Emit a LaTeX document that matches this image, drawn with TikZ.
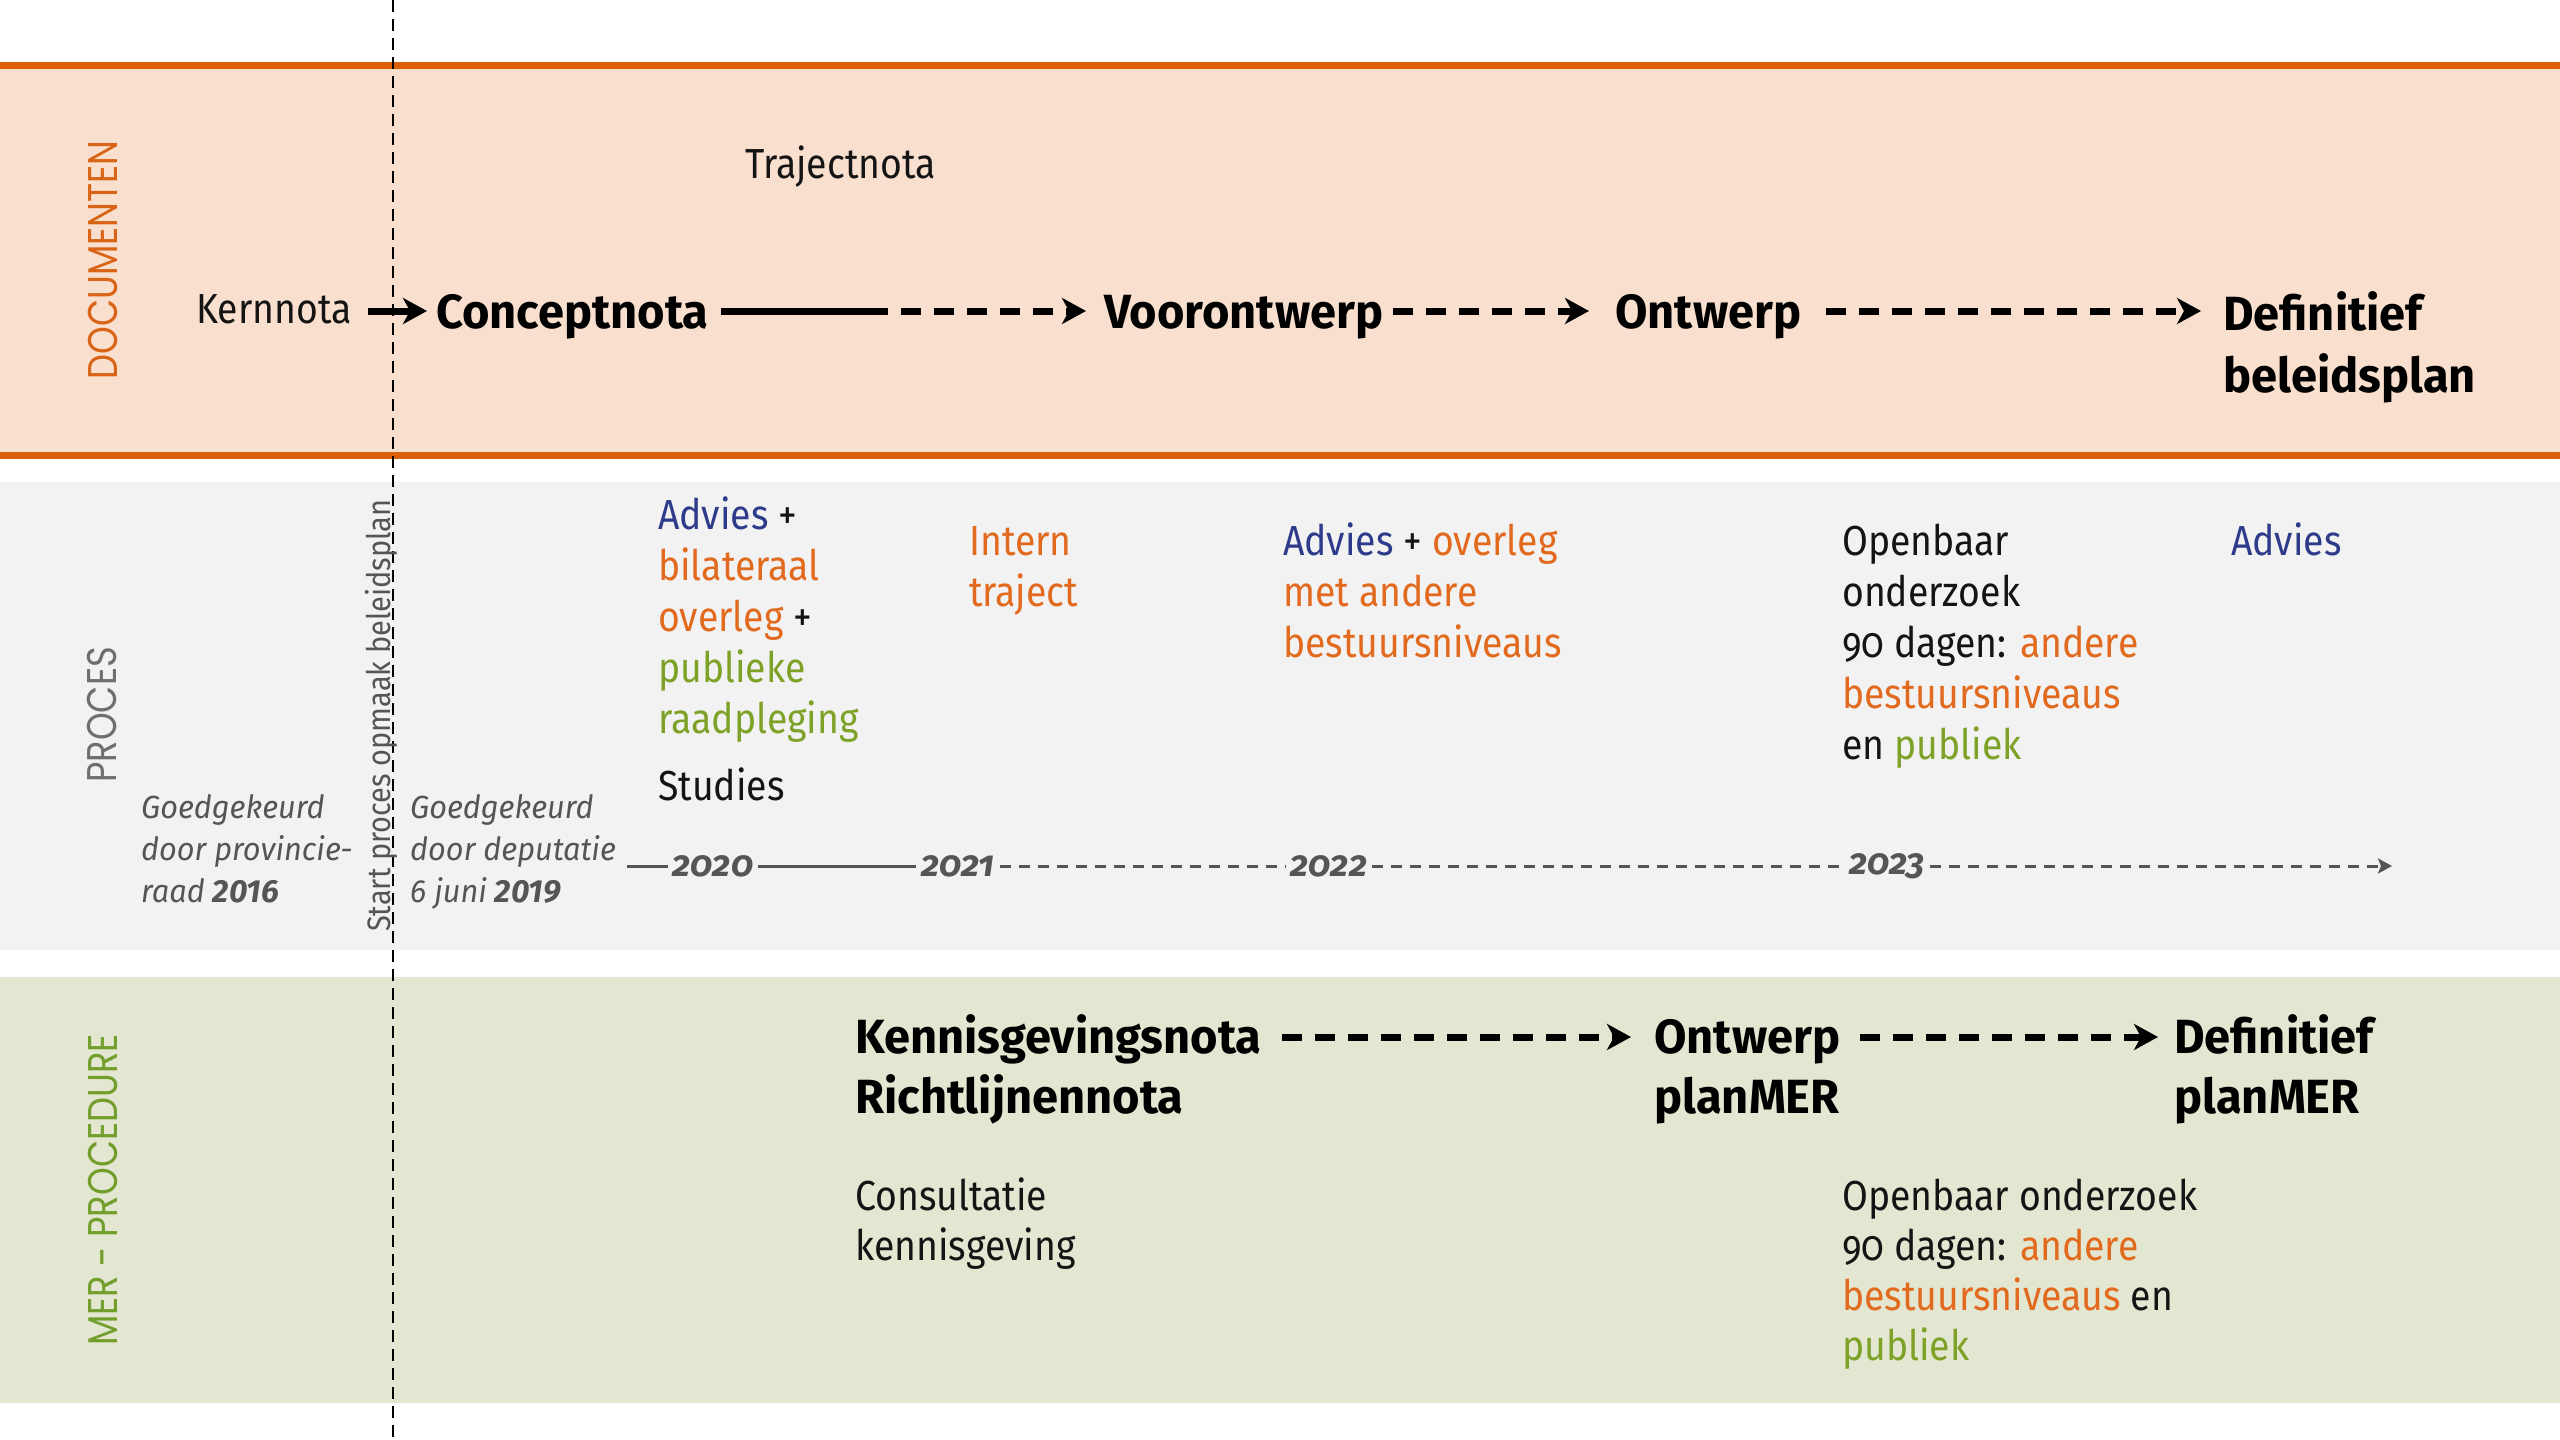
\documentclass[tikz,border=0pt]{standalone}
\usepackage{fontspec}
\setmainfont{Fira Sans}[UprightFeatures={FakeStretch=0.89}, BoldFeatures={FakeStretch=0.98}, ItalicFeatures={FakeStretch=0.96}]
\newfontfamily\bandfont{Poppins}[FakeStretch=0.85]
\usetikzlibrary{arrows.meta}
\definecolor{peach}{RGB}{249,223,206}
\definecolor{orangeline}{RGB}{220,96,8}
\definecolor{grayband}{RGB}{242,242,242}
\definecolor{greenband}{RGB}{227,230,208}
\definecolor{cblue}{RGB}{46,58,138}
\definecolor{corange}{RGB}{226,106,30}
\definecolor{cgreen}{RGB}{126,162,40}
\definecolor{cdoc}{RGB}{217,100,22}
\definecolor{cproc}{RGB}{110,110,110}
\definecolor{cmer}{RGB}{114,158,44}
\definecolor{tgray}{RGB}{85,85,85}
\definecolor{ink}{RGB}{20,20,20}
\newcommand{\ml}[1]{\begin{tabular}[t]{@{}l@{}}#1\end{tabular}}
\newcommand{\osf}[1]{{\addfontfeatures{Numbers=OldStyle}#1}}
\tikzset{
  txt/.style={inner sep=0pt, anchor=base west, font=\fontsize{42}{51}\selectfont, text=ink},
  boldtxt/.style={inner sep=0pt, anchor=base west, font=\fontsize{48}{60}\selectfont\bfseries, text=black},
  note/.style={inner sep=0pt, anchor=base west, font=\fontsize{32}{42}\selectfont\itshape, text=tgray},
  bandlabel/.style={rotate=90, inner sep=0pt, font=\fontsize{41.5}{46}\selectfont\bandfont},
  year/.style={inner xsep=5pt, inner ysep=0pt, font=\fontsize{36}{40}\selectfont\bfseries\itshape\addfontfeatures{Numbers=OldStyle}, text=tgray},
  bigarrow/.style={line width=7pt, draw=black, -{Stealth[length=24pt,width=26pt,inset=7pt]}},
  bigdash/.style={bigarrow, dash pattern=on 20pt off 13pt},
  tline/.style={line width=3pt, draw=tgray},
  tdash/.style={tline, dash pattern=on 11pt off 8pt},
  vline/.style={line width=2pt, draw=black, dash pattern=on 12pt off 7pt},
}
\begin{document}
\begin{tikzpicture}[x=1pt,y=-1pt]
\useasboundingbox[fill=white] (0,0) rectangle (2560,1440);
% bands
\fill[peach] (0,65) rectangle (2560,455);
\draw[orangeline, line width=7pt] (0,65) -- (2560,65);
\draw[orangeline, line width=7pt] (0,455) -- (2560,455);
\fill[grayband] (0,482) rectangle (2560,950);
\fill[greenband] (0,977) rectangle (2560,1403);
% vertical start line
\coordinate (vtop) at (393,0);
\coordinate (vbot) at (393,1440);
\draw[vline] (vtop) -- (vbot);
\node[rotate=90, inner sep=0pt, anchor=base west, font=\fontsize{32.5}{38}\selectfont, text=tgray] (start) at (390,932) {Start proces opmaak beleidsplan};
% band labels
\node[bandlabel, text=cdoc] (docl) at (103,260) {DOCUMENTEN};
\node[bandlabel, text=cproc] (procl) at (102,715) {PROCES};
\node[bandlabel, text=cmer] (merl) at (103,1190) {MER - PROCEDURE};
% documents row
\coordinate (rowA) at (0,311);
\node[txt] (traj) at (745,178) {Trajectnota};
\node[txt] (kern) at (196,323) {Kernnota};
\node[boldtxt] (concept) at (436,328) {Conceptnota};
\node[boldtxt] (voor) at (1104,328) {Voorontwerp};
\node[boldtxt] (ontw) at (1615,328) {Ontwerp};
\node[boldtxt, font=\fontsize{48}{62}\selectfont\bfseries] (defb) at (2223,330) {\ml{Definitief\\beleidsplan}};
\coordinate (cmid) at (888,311);
\draw[bigarrow] ([xshift=16pt]kern.east |- rowA) -- ([xshift=-9pt]concept.west |- rowA);
\draw[line width=7pt] ([xshift=12pt]concept.east |- rowA) -- (cmid);
\draw[bigdash] ([xshift=13pt]cmid) -- ([xshift=-18pt]voor.west |- rowA);
\draw[bigdash] ([xshift=10pt]voor.east |- rowA) -- ([xshift=-26pt]ontw.west |- rowA);
\draw[bigdash] ([xshift=25pt]ontw.east |- rowA) -- ([xshift=-22pt]defb.west |- rowA);
% process row
\node[txt] (p1) at (658,529) {\ml{\textcolor{cblue}{Advies} +\\\textcolor{corange}{bilateraal}\\\textcolor{corange}{overleg} +\\\textcolor{cgreen}{publieke}\\\textcolor{cgreen}{raadpleging}}};
\node[txt] (studies) at (658,800) {Studies};
\node[txt, text=corange] (p2) at (969,555) {\ml{Intern\\traject}};
\node[txt] (p3) at (1283,555) {\ml{\textcolor{cblue}{Advies} + \textcolor{corange}{overleg}\\\textcolor{corange}{met andere}\\\textcolor{corange}{bestuursniveaus}}};
\node[txt] (p4) at (1842,555) {\ml{Openbaar\\onderzoek\\\osf{90} dagen: \textcolor{corange}{andere}\\\textcolor{corange}{bestuursniveaus}\\en \textcolor{cgreen}{publiek}}};
\node[txt, text=cblue] (p5) at (2231,555) {Advies};
\node[note] (n1) at (141,818) {\ml{Goedgekeurd\\door provincie-\\raad \textbf{2016}}};
\node[note] (n2) at (410,818) {\ml{Goedgekeurd\\door deputatie\\6 juni \textbf{2019}}};
% timeline
\coordinate (tstart) at (627,866);
\node[year] (y20) at (713,866) {2020};
\node[year] (y21) at (958,866) {2021};
\node[year] (y22) at (1329,866) {2022};
\node[year] (y23) at (1887,866) {2023};
\coordinate (tend) at (2392,866);
\draw[tline] (tstart) -- (y20);
\draw[tline] (y20) -- (y21);
\draw[tdash] (y21) -- (y22);
\draw[tdash] (y22) -- (y23);
\draw[tdash, -{Stealth[length=14pt,width=15pt,inset=3pt]}] (y23) -- (tend);
% MER row
\coordinate (rowM) at (0,1037);
\node[boldtxt] (kennis) at (855,1053) {\ml{Kennisgevingsnota\\Richtlijnennota}};
\node[boldtxt] (ontm) at (1654,1053) {\ml{Ontwerp\\planMER}};
\node[boldtxt] (defm) at (2174,1053) {\ml{Definitief\\planMER}};
\draw[bigdash] ([xshift=20pt]kennis.east |- rowM) -- ([xshift=-23pt]ontm.west |- rowM);
\draw[bigdash] ([xshift=20pt]ontm.east |- rowM) -- ([xshift=-16pt]defm.west |- rowM);
\node[txt, font=\fontsize{42}{50}\selectfont] (consult) at (855,1210) {\ml{Consultatie\\kennisgeving}};
\node[txt, font=\fontsize{42}{50}\selectfont] (oo) at (1842,1210) {\ml{Openbaar onderzoek\\\osf{90} dagen: \textcolor{corange}{andere}\\\textcolor{corange}{bestuursniveaus} en\\\textcolor{cgreen}{publiek}}};
\end{tikzpicture}
\end{document}
